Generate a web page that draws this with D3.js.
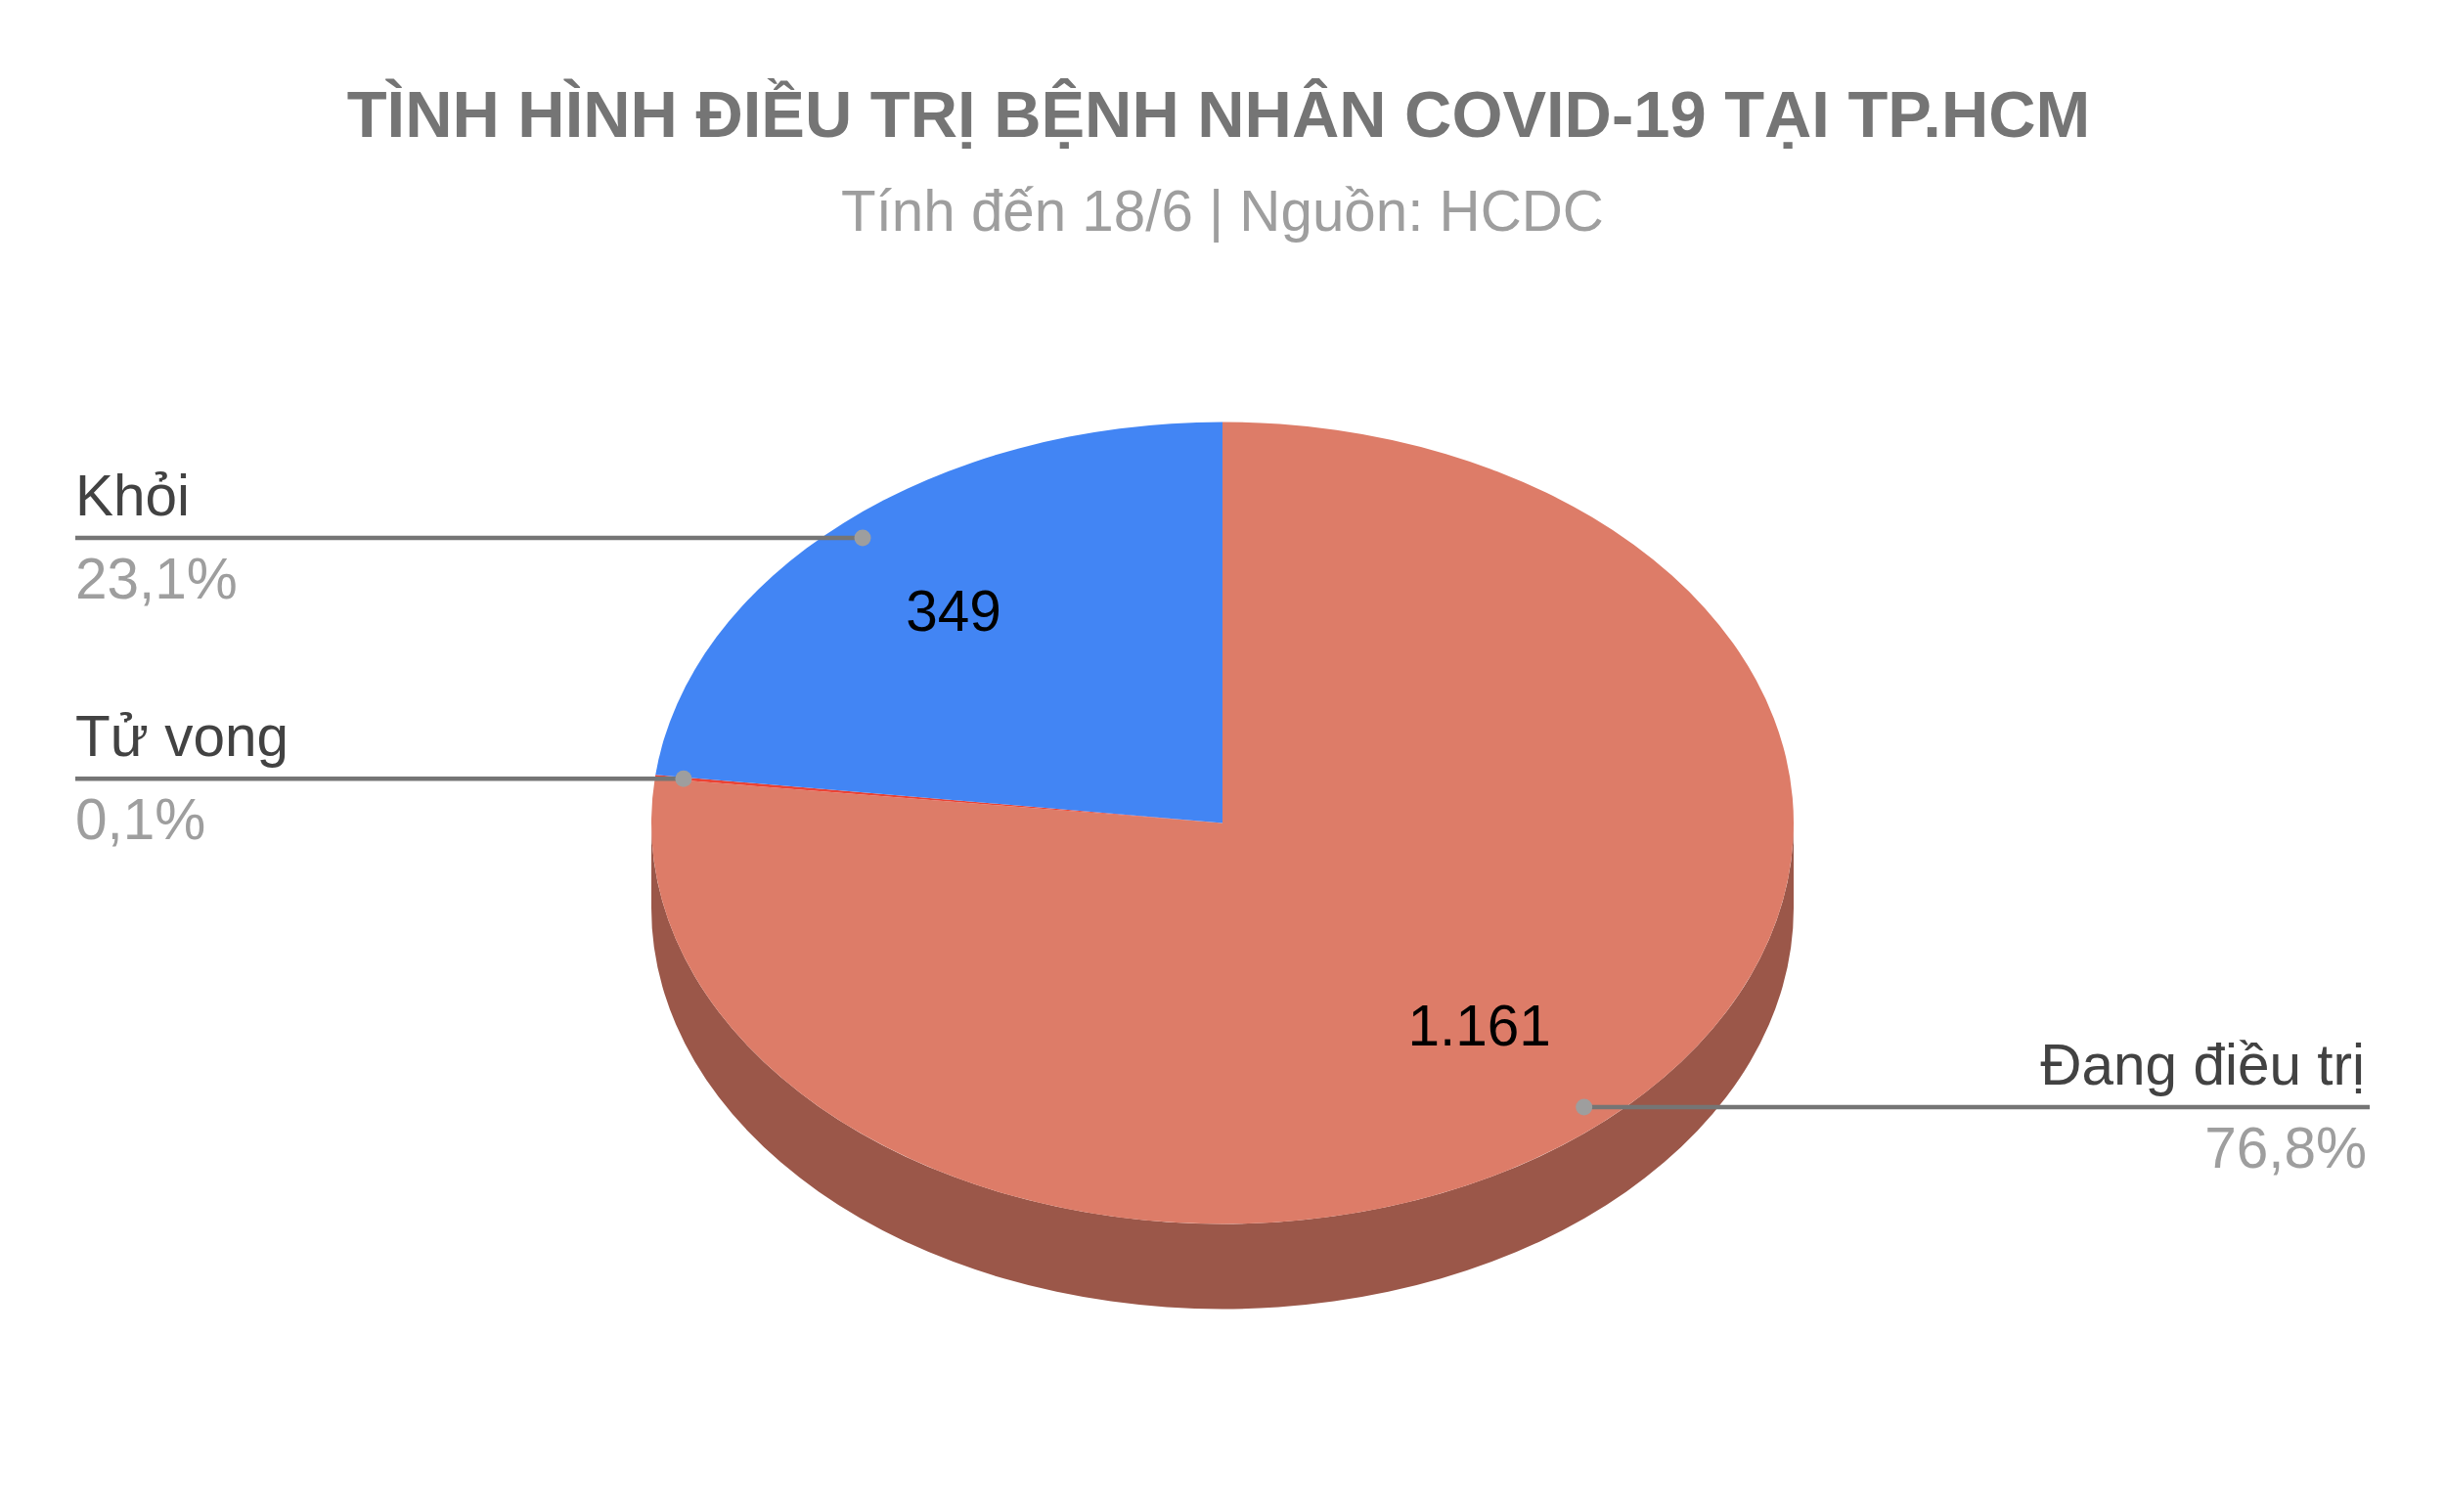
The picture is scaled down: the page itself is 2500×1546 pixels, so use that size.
<!DOCTYPE html>
<html>
<head>
<meta charset="utf-8">
<script src="https://d3js.org/d3.v7.min.js"></script>
<style>
  html, body { margin: 0; padding: 0; background: #fff; }
  svg { display: block; }
  text { font-family: "Liberation Sans", Arial, sans-serif; }
</style>
</head>
<body>
<script>
// data
var categories = ["Đang điều trị", "Tử vong", "Khỏi"];
var values = [1161, 2, 349];
var percentLabels = ["76,8%", "0,1%", "23,1%"];
var valueLabels = ["1.161", "", "349"];

//Width and height
var w = 2500;
var h = 1546;
var cx = 1250, cy = 841.5;
var rx = 584, ry = 410;
var depth = 87;
var tilt = ry / rx;

var color = d3.scaleOrdinal().domain(categories).range(["#dd7c68", "#ea4335", "#4285f4"]);
var sideColor = d3.scaleOrdinal().domain(categories).range(["#9b5749", "#a32f25", "#2e5daa"]);

var svg = d3.select("body").append("svg")
  .attr("width", w)
  .attr("height", h);

var pie = d3.pie().value(function(d, i) { return values[i]; }).sort(null);
var slices = pie(categories);

var arc = d3.arc().innerRadius(0).outerRadius(rx);
var pointArc = function(f) { return d3.arc().innerRadius(rx * f).outerRadius(rx * f); };

// flatten a point of the round pie on to the tilted one
function flat(p) { return [cx + p[0], cy + p[1] * tilt]; }

// side wall, only the part facing the viewer
slices.forEach(function(d) {
  var a0 = Math.max(d.startAngle, Math.PI / 2);
  var a1 = Math.min(d.endAngle, Math.PI * 3 / 2);
  if (a0 >= a1) return;
  var x0 = cx + rx * Math.sin(a0), y0 = cy - ry * Math.cos(a0);
  var x1 = cx + rx * Math.sin(a1), y1 = cy - ry * Math.cos(a1);
  var large = a1 - a0 > Math.PI ? 1 : 0;
  svg.append("path")
    .attr("fill", sideColor(d.data))
    .attr("d", "M" + x0 + "," + y0 + "L" + x0 + "," + (y0 + depth) +
      "A" + rx + "," + ry + " 0 " + large + " 1 " + x1 + "," + (y1 + depth) +
      "L" + x1 + "," + y1 +
      "A" + rx + "," + ry + " 0 " + large + " 0 " + x0 + "," + y0 + "Z");
});

// top of the pie
svg.append("g")
  .attr("transform", "translate(" + cx + "," + cy + ") scale(1," + tilt + ")")
  .selectAll("path")
  .data(slices)
  .enter()
  .append("path")
  .attr("fill", function(d) { return color(d.data); })
  .attr("d", arc);

// values inside the slices, the wide label sits a bit nearer the middle
var labelRadius = d3.scaleOrdinal().domain(categories).range([0.675, 0.7, 0.71]);
function labelPoint(d) { return flat(pointArc(labelRadius(d.data)).centroid(d)); }
svg.selectAll("text.value")
  .data(slices)
  .enter()
  .append("text")
  .attr("class", "value")
  .attr("text-anchor", "middle")
  .attr("font-size", 58.5)
  .attr("fill", "#000")
  .attr("x", function(d) { return labelPoint(d)[0]; })
  .attr("y", function(d) { return labelPoint(d)[1] + 21; })
  .text(function(d, i) { return valueLabels[i]; });

// leader lines with name above and share below
var dotArc = pointArc(0.95);
var leftX = 77, rightX = 2423;
var groups = svg.selectAll("g.leader")
  .data(slices)
  .enter()
  .append("g")
  .attr("class", "leader");

groups.each(function(d, i) {
  var g = d3.select(this);
  var p = flat(dotArc.centroid(d));
  var onRight = p[0] > cx;
  var endX = onRight ? rightX : leftX;
  var textX = onRight ? rightX - 5 : leftX;
  var anchor = onRight ? "end" : "start";

  g.append("line")
    .attr("x1", endX).attr("x2", p[0])
    .attr("y1", p[1]).attr("y2", p[1])
    .attr("stroke", "#757575")
    .attr("stroke-width", 4.5);
  g.append("circle")
    .attr("cx", p[0]).attr("cy", p[1])
    .attr("r", 8.5)
    .attr("fill", "#9e9e9e");
  g.append("text")
    .attr("x", textX).attr("y", p[1] - 23)
    .attr("text-anchor", anchor)
    .attr("font-size", 58.5)
    .attr("fill", "#424242")
    .text(categories[i]);
  g.append("text")
    .attr("x", onRight ? textX + 2 : textX).attr("y", p[1] + 62)
    .attr("text-anchor", anchor)
    .attr("font-size", 58.5)
    .attr("fill", "#9e9e9e")
    .text(percentLabels[i]);
});

// titles
svg.append("text")
  .attr("x", 1246).attr("y", 140)
  .attr("text-anchor", "middle")
  .attr("font-size", 66.9)
  .attr("font-weight", "bold")
  .attr("fill", "#757575")
  .text("TÌNH HÌNH ĐIỀU TRỊ BỆNH NHÂN COVID-19 TẠI TP.HCM");

svg.append("text")
  .attr("x", 1250).attr("y", 236)
  .attr("text-anchor", "middle")
  .attr("font-size", 58.3)
  .attr("fill", "#9e9e9e")
  .text("Tính đến 18/6 | Nguồn: HCDC");
</script>
</body>
</html>
